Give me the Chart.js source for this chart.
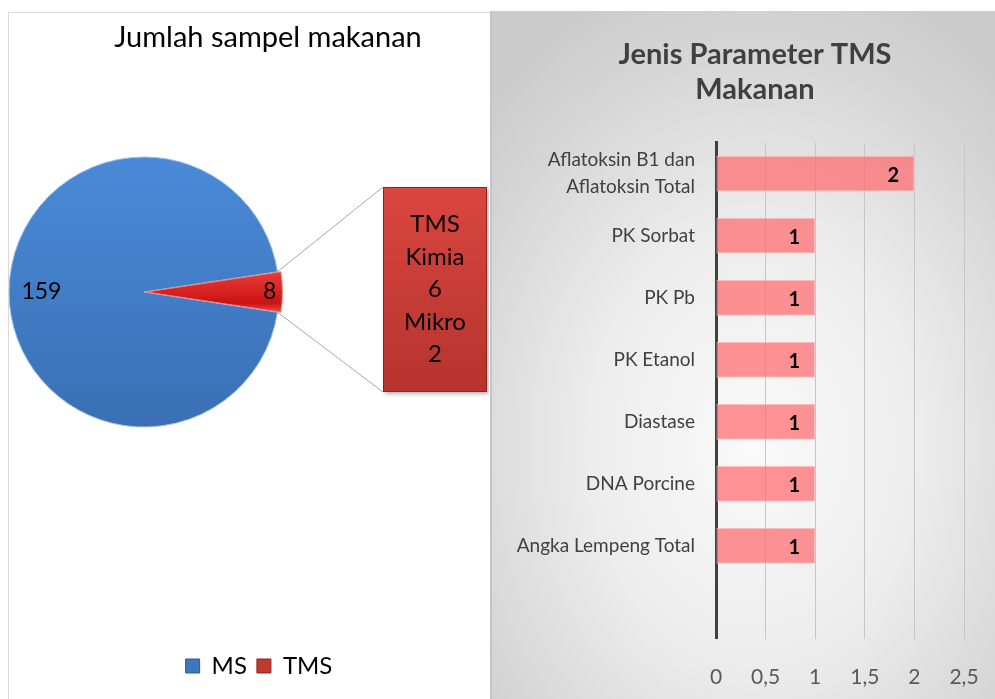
<!DOCTYPE html>
<html>
<head>
<meta charset="utf-8">
<script src="https://cdn.jsdelivr.net/npm/chart.js@4.4.1/dist/chart.umd.min.js"></script>
<style>
  body { margin: 0; background: #fff; width: 995px; height: 699px; overflow: hidden; position: relative; font-family: Lato, sans-serif; }
  #leftPanel { position: absolute; left: 8px; top: 12px; width: 481px; height: 700px; border: 1px solid #d9d9d9; background: #fff; }
  #rightPanel { position: absolute; left: 490px; top: 11px; width: 505px; height: 700px; border-left: 2px solid #c4c4c4;
    background: radial-gradient(ellipse 75% 70% at 52% 62%, #fafafa 0%, #ececec 45%, #d6d6d6 80%, #cbcbcb 100%); }
  #pieCanvas { position: absolute; left: 9px; top: 13px; }
  #barCanvas { position: absolute; left: 491px; top: 11px; }
</style>
</head>
<body>
<div id="leftPanel"></div>
<div id="rightPanel"></div>
<canvas id="pieCanvas" width="480" height="686"></canvas>
<canvas id="barCanvas" width="504" height="688"></canvas>
<script>
// pie data
const pieLabels = ['MS', 'TMS'];
const pieValues = [159, 8];
const tmsParts = ['Kimia', 'Mikro'];
const tmsPartValues = [6, 2];

// bar data (top to bottom, last slot empty)
const barCategories = [['Aflatoksin B1 dan', 'Aflatoksin Total'], 'PK Sorbat', 'PK Pb', 'PK Etanol', 'Diastase', 'DNA Porcine', 'Angka Lempeng Total', ''];
const barValues = [2, 1, 1, 1, 1, 1, 1, null];
const xTickValues = [0, 0.5, 1, 1.5, 2, 2.5];
const xTickLabels = ['0', '0,5', '1', '1,5', '2', '2,5'];

Chart.defaults.font.family = 'Lato, sans-serif';
Chart.defaults.animation = false;

// ---------- left: pie ----------
const pieCenter = { x: 135, y: 279 };
const pieRadius = 135;
const total = pieValues[0] + pieValues[1];
// turn so the TMS slice points right
const pieRotation = 90 - (pieValues[0] + pieValues[1] / 2) / total * 360;

const pieCtx = document.getElementById('pieCanvas').getContext('2d');
const blueGrad = pieCtx.createLinearGradient(0, pieCenter.y - pieRadius, 0, pieCenter.y + pieRadius);
blueGrad.addColorStop(0, '#4a8ad8');
blueGrad.addColorStop(1, '#3a6fb4');
const redGrad = pieCtx.createLinearGradient(0, pieCenter.y - 22, 0, pieCenter.y + 22);
redGrad.addColorStop(0, '#e8403a');
redGrad.addColorStop(0.75, '#cc1212');
redGrad.addColorStop(1, '#e85a55');

const placePie = {
  id: 'placePie',
  afterLayout(chart) {
    const s = pieRadius + 10;
    chart.chartArea = {
      left: pieCenter.x - s, right: pieCenter.x + s,
      top: pieCenter.y - s, bottom: pieCenter.y + s,
      width: s * 2, height: s * 2
    };
    chart.titleBlock.left += 9;
    chart.titleBlock.right += 9;
  }
};

const pieExtras = {
  id: 'pieExtras',
  afterDatasetsDraw(chart) {
    const ctx = chart.ctx;
    const arcs = chart.getDatasetMeta(0).data;
    ctx.save();
    ctx.font = '23px Lato, sans-serif';
    ctx.fillStyle = '#000';
    ctx.textAlign = 'center';
    ctx.textBaseline = 'middle';
    // value labels
    const fr = [0.76, 0.93];
    arcs.forEach((a, i) => {
      const p = a.getProps(['x', 'y', 'startAngle', 'endAngle', 'outerRadius']);
      let mid = (p.startAngle + p.endAngle) / 2;
      if (i === 0) mid = Math.PI;
      ctx.fillText(String(pieValues[i]), p.x + Math.cos(mid) * p.outerRadius * fr[i], p.y + Math.sin(mid) * p.outerRadius * fr[i]);
    });

    // callout box for TMS breakdown
    const t = arcs[1].getProps(['x', 'y', 'startAngle', 'endAngle', 'outerRadius']);
    const box = { l: 374, t: 174, r: 478, b: 379 };
    const p1 = { x: t.x + Math.cos(t.startAngle) * t.outerRadius, y: t.y + Math.sin(t.startAngle) * t.outerRadius };
    const p2 = { x: t.x + Math.cos(t.endAngle) * t.outerRadius, y: t.y + Math.sin(t.endAngle) * t.outerRadius };
    ctx.strokeStyle = '#a6a6a6';
    ctx.lineWidth = 1;
    ctx.beginPath();
    ctx.moveTo(p1.x, p1.y); ctx.lineTo(box.l, box.t);
    ctx.moveTo(p2.x, p2.y); ctx.lineTo(box.l, box.b);
    ctx.stroke();

    ctx.shadowColor = 'rgba(0,0,0,0.3)';
    ctx.shadowBlur = 4;
    ctx.shadowOffsetX = 2;
    ctx.shadowOffsetY = 2;
    const g = ctx.createLinearGradient(0, box.t, 0, box.b);
    g.addColorStop(0, '#d9463f');
    g.addColorStop(1, '#b6332e');
    ctx.fillStyle = g;
    ctx.fillRect(box.l, box.t, box.r - box.l, box.b - box.t);
    ctx.shadowColor = 'transparent';
    ctx.strokeStyle = '#8e2420';
    ctx.strokeRect(box.l + 0.5, box.t + 0.5, box.r - box.l - 1, box.b - box.t - 1);

    const lines = [pieLabels[1]];
    tmsParts.forEach((n, i) => { lines.push(n); lines.push(String(tmsPartValues[i])); });
    ctx.fillStyle = '#000';
    ctx.font = '24px Lato, sans-serif';
    const cx = (box.l + box.r) / 2;
    const step = 32.5;
    const y0 = (box.t + box.b) / 2 - step * (lines.length - 1) / 2;
    lines.forEach((s, i) => ctx.fillText(s, cx, y0 + i * step));
    ctx.restore();
  }
};

new Chart(pieCtx, {
  type: 'pie',
  data: {
    labels: pieLabels,
    datasets: [{
      data: pieValues,
      backgroundColor: [blueGrad, redGrad],
      borderColor: ['#9cbde6', '#f08080'],
      borderWidth: 1,
      offset: [0, 8],
      radius: pieRadius,
      rotation: pieRotation
    }]
  },
  options: {
    responsive: false,
    layout: { padding: { left: 20, right: 0, top: 0, bottom: 11 } },
    plugins: {
      title: {
        display: true,
        text: 'Jumlah sampel makanan',
        color: '#000',
        font: { size: 29, weight: 'normal' },
        padding: { top: 7, bottom: 10 }
      },
      legend: {
        position: 'bottom',
        labels: {
          color: '#000',
          font: { size: 24 },
          boxWidth: 14,
          boxHeight: 14,
          padding: 10,
          generateLabels(chart) {
            const fills = ['#3f76bf', '#c0392f'];
            const strokes = ['#2d5a96', '#8e2420'];
            return pieLabels.map((l, i) => ({ text: l, fillStyle: fills[i], strokeStyle: strokes[i], lineWidth: 1, index: i }));
          }
        }
      },
      tooltip: { enabled: false }
    }
  },
  plugins: [placePie, pieExtras]
});

// ---------- right: bar ----------
const barLabelsPlugin = {
  id: 'barLabels',
  afterLayout(chart) {
    chart.titleBlock.left += 25;
    chart.titleBlock.right += 25;
  },
  afterDatasetsDraw(chart) {
    const ctx = chart.ctx;
    const meta = chart.getDatasetMeta(0);
    ctx.save();
    ctx.font = 'bold 20px Lato, sans-serif';
    ctx.fillStyle = '#000';
    ctx.textAlign = 'center';
    ctx.textBaseline = 'middle';
    meta.data.forEach((bar, i) => {
      if (barValues[i] == null) return;
      ctx.fillText(String(barValues[i]), bar.x - 21, bar.y + 2);
    });
    ctx.restore();
  }
};

new Chart(document.getElementById('barCanvas'), {
  type: 'bar',
  data: {
    labels: barCategories,
    datasets: [{
      data: barValues,
      backgroundColor: 'rgba(255, 105, 110, 0.72)',
      borderColor: 'rgba(255, 190, 192, 0.9)',
      borderWidth: 1,
      borderSkipped: false,
      categoryPercentage: 1,
      barPercentage: 0.58
    }]
  },
  options: {
    responsive: false,
    indexAxis: 'y',
    layout: { padding: { left: 5, right: 31, top: 0, bottom: 9 } },
    scales: {
      x: {
        min: 0,
        max: 2.5,
        afterBuildTicks(scale) { scale.ticks = xTickValues.map(v => ({ value: v })); },
        afterFit(scale) {
          scale.height -= scale.options.ticks.padding;
          scale.paddingLeft = 0;
          scale.paddingRight = 0;
        },
        ticks: {
          color: '#595959',
          font: { size: 21 },
          padding: 26,
          maxRotation: 0,
          callback: (v, i) => xTickLabels[i]
        },
        grid: { color: '#c6c6c6', lineWidth: 1, drawTicks: false },
        border: { display: false }
      },
      y: {
        afterFit(scale) {
          scale.width = 220;
          scale.paddingTop = 0;
          scale.paddingBottom = 0;
        },
        ticks: {
          color: '#404040',
          font: { size: 19, lineHeight: 1.4 },
          padding: 21
        },
        grid: { display: false, drawTicks: false },
        border: { color: '#404040', width: 3 }
      }
    },
    plugins: {
      title: {
        display: true,
        text: ['Jenis Parameter TMS', 'Makanan'],
        color: '#404040',
        font: { size: 29, weight: 'bold', lineHeight: 1.2 },
        padding: { top: 26, bottom: 36 }
      },
      legend: { display: false },
      tooltip: { enabled: false }
    }
  },
  plugins: [barLabelsPlugin]
});
</script>
</body>
</html>
